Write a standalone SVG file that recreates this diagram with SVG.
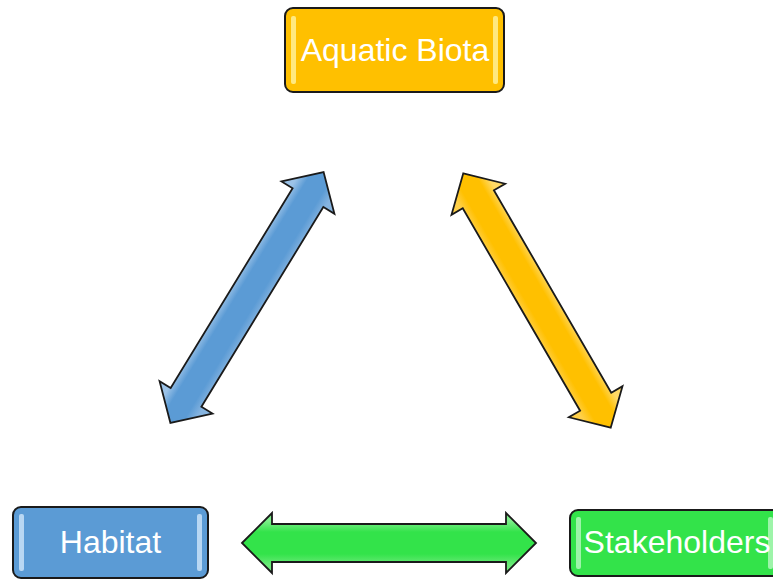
<svg xmlns="http://www.w3.org/2000/svg" width="773" height="580" viewBox="0 0 773 580">
<style>
.box{stroke:#1a1a1a;stroke-width:2}
.arr{stroke:#1a1a1a;stroke-width:1.8;stroke-linejoin:miter}
.lbl{font-family:"Liberation Sans",Arial,sans-serif;font-size:32px;fill:#ffffff;text-anchor:middle}
</style>
<defs>
<linearGradient id="gY" x1="0" y1="-20" x2="0" y2="20" gradientUnits="userSpaceOnUse">
<stop offset="0" stop-color="#FFD966"/><stop offset="0.25" stop-color="#FFC000"/><stop offset="0.75" stop-color="#FFC000"/><stop offset="1" stop-color="#FFD04A"/>
</linearGradient>
<linearGradient id="gB" x1="0" y1="-20" x2="0" y2="20" gradientUnits="userSpaceOnUse">
<stop offset="0" stop-color="#9CC3E8"/><stop offset="0.25" stop-color="#5B9BD5"/><stop offset="0.75" stop-color="#5B9BD5"/><stop offset="1" stop-color="#86B4E0"/>
</linearGradient>
<linearGradient id="gG" x1="0" y1="-22" x2="0" y2="22" gradientUnits="userSpaceOnUse">
<stop offset="0" stop-color="#7DEE8A"/><stop offset="0.25" stop-color="#33E34A"/><stop offset="0.75" stop-color="#33E34A"/><stop offset="1" stop-color="#6BEA79"/>
</linearGradient>
<polygon id="arrD" points="-147,0 -117,-31 -117,-18 117,-18 117,-31 147,0 117,31 117,18 -117,18 -117,31"/>
<polygon id="arrH" points="-147,0 -117,-30 -117,-19 117,-19 117,-30 147,0 117,30 117,19 -117,19 -117,30"/>
</defs>

<g id="connectors">
<g id="arrow-habitat-biota" transform="translate(247,297.5) rotate(-58.6)">
<use href="#arrD" class="arr" fill="url(#gB)"/>
</g>
<g id="arrow-biota-stakeholders" transform="translate(537,300.5) rotate(59.9)">
<use href="#arrD" class="arr" fill="url(#gY)"/>
</g>
<g id="arrow-habitat-stakeholders" transform="translate(389,543)">
<use href="#arrH" class="arr" fill="url(#gG)"/>
</g>
</g>

<g id="aquatic-biota">
<rect class="box" x="285" y="8" width="219" height="84" rx="8" fill="#FFC000"/>
<rect x="291" y="16" width="5" height="68" rx="2" fill="#FFF2A0" opacity="0.8"/>
<rect x="493" y="16" width="5" height="68" rx="2" fill="#FFF2A0" opacity="0.8"/>
<text class="lbl" x="395" y="61">Aquatic Biota</text>
</g>

<g id="habitat">
<rect class="box" x="13" y="507" width="195" height="71" rx="8" fill="#5B9BD5"/>
<rect x="19" y="514" width="5" height="57" rx="2" fill="#CFE6FA" opacity="0.8"/>
<rect x="197" y="514" width="5" height="57" rx="2" fill="#CFE6FA" opacity="0.8"/>
<text class="lbl" x="110.5" y="553">Habitat</text>
</g>

<g id="stakeholders">
<rect class="box" x="570" y="510" width="214" height="66" rx="8" fill="#33E34A"/>
<rect x="576" y="517" width="5" height="52" rx="2" fill="#B8F7C0" opacity="0.8"/>
<rect x="768" y="517" width="5" height="52" rx="2" fill="#B8F7C0" opacity="0.8"/>
<text class="lbl" x="677" y="553">Stakeholders</text>
</g>
</svg>
